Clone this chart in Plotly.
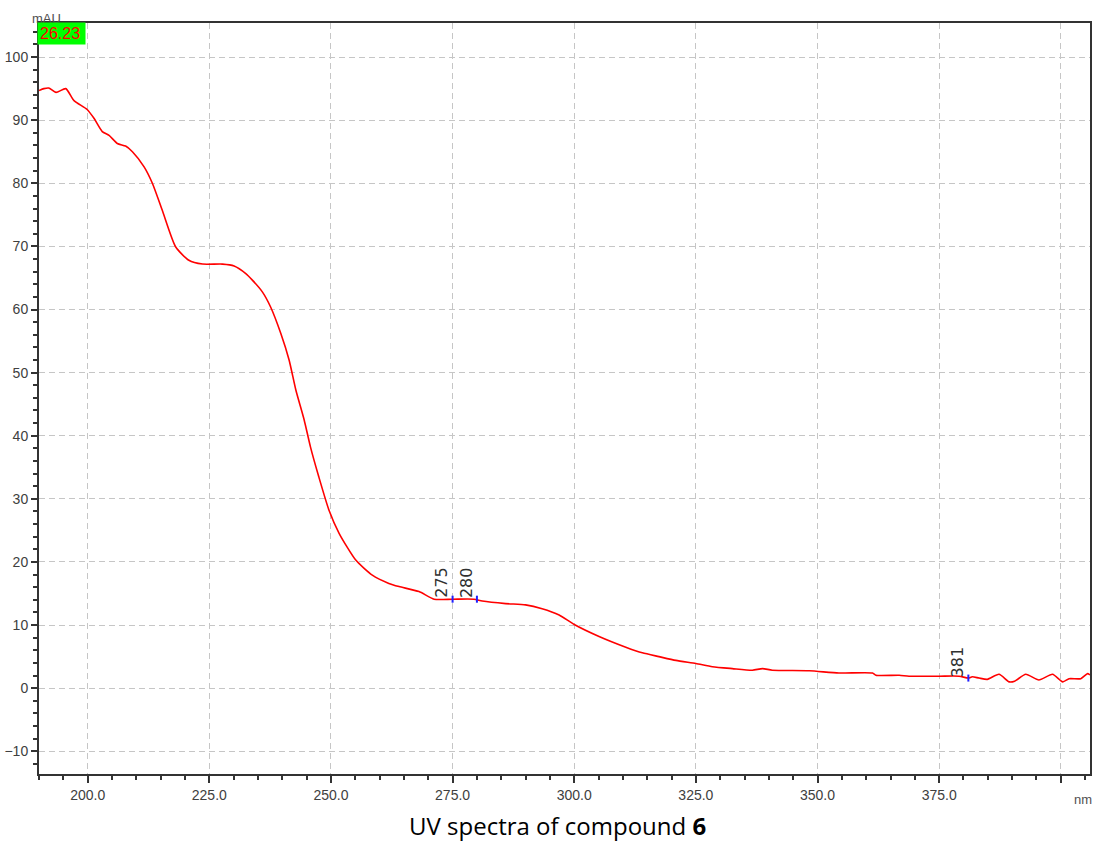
import plotly.graph_objects as go

# UV absorbance spectrum (wavelength in nm, absorbance in mAU)
wavelength = [190, 191, 192, 193.5, 195.5, 197.2, 199.9, 201.3, 203.0, 204.4, 206.1,
              207.8, 209.2, 211.6, 213.3, 215.3, 218.1, 220.8, 223.6, 227.7, 230.1,
              232.5, 233.8, 235.9, 237.6, 239.7, 241.4, 242.8, 244.5, 245.8, 247.5,
              249.6, 251.7, 255.1, 258.5, 261.9, 264.0, 268.1, 271.2, 275.0, 279.4,
              281.1, 285.9, 290.0, 293.4, 296.9, 300.0, 305.1, 310.6, 314.0, 317.4,
              320.9, 325.0, 328.4, 332.5, 336.6, 338.7, 340.7, 348.3, 354.4, 361.3,
              362.0, 366.8, 368.8, 375.0, 379.1, 381.0, 381.8, 383.2, 384.9, 387.3,
              389.4, 390.5, 392.8, 395.5, 398.3, 400.4, 401.7, 404.1, 405.5, 406.0]
absorbance = [94.7, 95.0, 95.1, 94.4, 95.0, 93.1, 91.7, 90.3, 88.2, 87.6, 86.3,
              85.9, 85.0, 82.6, 80.0, 75.8, 69.9, 67.8, 67.2, 67.2, 66.9,
              65.7, 64.7, 62.8, 60.4, 56.2, 52.0, 47.2, 42.5, 38.2, 33.5,
              28.2, 24.5, 20.3, 17.9, 16.6, 16.1, 15.3, 14.1, 14.1, 14.1,
              13.8, 13.4, 13.2, 12.6, 11.6, 10.1, 8.2, 6.5, 5.6, 5.0,
              4.4, 3.9, 3.4, 3.1, 2.85, 3.1, 2.85, 2.75, 2.4, 2.4,
              2.05, 2.05, 1.9, 1.9, 1.9, 1.6, 1.8, 1.6, 1.4, 2.2,
              1.0, 1.1, 2.2, 1.3, 2.2, 1.0, 1.5, 1.5, 2.3, 2.1]

# Labelled maxima
peak_nm = [275, 280, 381]
peak_mau = [14.1, 14.1, 1.6]
peak_labels = ["275", "280", "381"]

cursor_value = "26.23"
y_unit = "mAU"
x_unit = "nm"
caption = "UV spectra of compound <b>6</b>"

AXIS = "#333333"
TICKFONT = dict(family="Liberation Sans, Arial, sans-serif", size=14, color="#404040")

fig = go.Figure()
fig.add_trace(go.Scatter(x=wavelength, y=absorbance, mode="lines",
                         line=dict(color="#ff0000", width=1.6, shape="spline",
                                   smoothing=0.6),
                         hoverinfo="skip"))
fig.add_trace(go.Scatter(x=peak_nm, y=peak_mau, mode="markers",
                         marker=dict(symbol="line-ns", size=5,
                                     line=dict(color="#2020ff", width=2)),
                         hoverinfo="skip"))

for xv, yv, lab in zip(peak_nm, peak_mau, peak_labels):
    fig.add_annotation(x=xv, y=yv, xref="x", yref="y", text=lab, showarrow=False,
                       textangle=-90, xanchor="right", yanchor="bottom",
                       borderpad=0,
                       font=dict(family="DejaVu Sans, sans-serif", size=16, color="#303030"))

# y-unit label sits partly behind the top frame line
fig.add_annotation(x=0.0067, y=1, xref="paper", yref="paper", text=y_unit,
                   showarrow=False, xanchor="center", yanchor="bottom",
                   yshift=-5,
                   font=dict(family="Liberation Sans, Arial, sans-serif", size=13, color="#505050"))
# cursor readout box
fig.add_annotation(x=0, y=1, xref="paper", yref="paper", text=cursor_value,
                   showarrow=False, xanchor="left", yanchor="top",
                   bgcolor="#00ff00", borderpad=2, width=43, align="left",
                   xshift=-2, yshift=1,
                   font=dict(family="Liberation Sans, Arial, sans-serif", size=16, color="#ff0000"))
fig.add_annotation(x=1.0, y=0, xref="paper", yref="paper", text=x_unit,
                   showarrow=False, xanchor="right", yanchor="top",
                   xshift=4, yshift=-16,
                   font=dict(family="Liberation Sans, Arial, sans-serif", size=13, color="#505050"))
fig.add_annotation(x=0.4938, y=-0.069, xref="paper", yref="paper", text=caption,
                   showarrow=False, xanchor="center", yanchor="middle",
                   font=dict(family="Open Sans, sans-serif", size=24, color="#000000"))

fig.update_xaxes(range=[190, 406], tickmode="linear", tick0=0, dtick=25,
                 tickformat=".1f", labelalias={"400.0": " "}, automargin=False,
                 showline=True, linecolor=AXIS, linewidth=2, mirror=True,
                 ticks="outside", ticklen=7, tickwidth=2, tickcolor=AXIS,
                 tickfont=TICKFONT, showgrid=True, gridcolor="#c6c6c6",
                 gridwidth=1, griddash="6px,4px", zeroline=False,
                 minor=dict(dtick=5, tick0=0, ticks="outside", ticklen=4,
                            tickwidth=2, tickcolor=AXIS, showgrid=False))
fig.update_yaxes(range=[-13.6, 105.4], tickmode="linear", tick0=0, dtick=10,
                 automargin=False,
                 showline=True, linecolor=AXIS, linewidth=2, mirror=True,
                 ticks="outside", ticklen=6, tickwidth=2, tickcolor=AXIS,
                 tickfont=TICKFONT, showgrid=True, gridcolor="#c6c6c6",
                 gridwidth=1, griddash="6px,4px", zeroline=False,
                 minor=dict(dtick=2, tick0=0, ticks="outside", ticklen=4,
                            tickwidth=2, tickcolor=AXIS, showgrid=False))

fig.update_layout(width=1099, height=845, showlegend=False,
                  plot_bgcolor="white", paper_bgcolor="white",
                  margin=dict(l=39, r=9, t=23, b=71))

fig.write_html("out.html")
